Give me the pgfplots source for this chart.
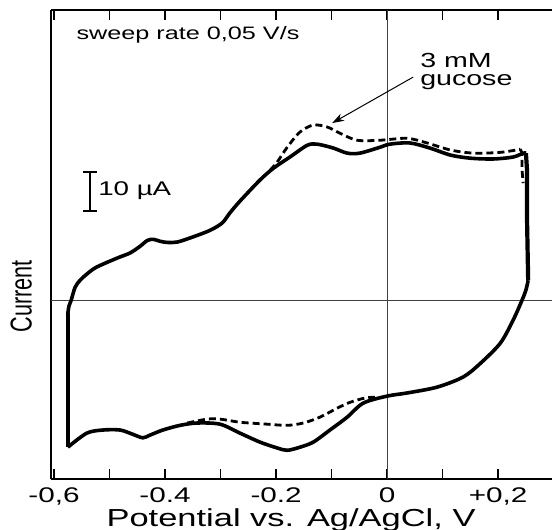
\documentclass[border=0pt]{standalone}
\usepackage{fontspec}
\setmainfont{Liberation Sans}
\usepackage{graphicx}
\usepackage{pgfplots}
\pgfplotsset{compat=1.18}
\usetikzlibrary{arrows.meta}

% the reference is stretched sideways, so text is widened by \sx
\newcommand{\sx}[1]{\scalebox{1.4}[1]{#1}}

\begin{document}
\begin{tikzpicture}
\begin{axis}[
    name=ax,
    scale only axis,
    width=256.7pt, height=234.5pt,
    xmin=-0.605, xmax=0.32,
    ymin=-45.9, ymax=74.4,
    axis x line=box, axis y line=left,
    axis line style={-, line width=0.8pt},
    xtick={-0.6,-0.5,-0.4,-0.3,-0.2,-0.1,0,0.1,0.2,0.3},
    xticklabels={{\sx{-0,6}},{},{\sx{-0.4}},{},{\sx{-0.2}},{},{\sx{0}},{},{\sx{+0,2}},{}},
    ytick=\empty,
    tick align=inside,
    major tick length=5pt,
    every tick/.style={black, line width=0.8pt},
    xticklabel style={font=\fontsize{10.6}{12}\selectfont, inner sep=1pt, yshift=-3pt},
    clip=false,
]
% zero lines
\addplot[black!75, line width=0.6pt] coordinates {(-0.605,0) (0.32,0)};
\addplot[black!75, line width=0.6pt] coordinates {(0,-45.9) (0,74.4)};

% blank CV, anodic branch
\addplot[black, line width=1.8pt, smooth, tension=0.5, line join=round] coordinates {
(-0.575,-3.3) (-0.573,-1.5) (-0.569,0) (-0.562,3.3) (-0.553,5.1)
(-0.539,6.9) (-0.523,8.5) (-0.486,10.8) (-0.463,12.1) (-0.445,13.8) (-0.432,15.3)
(-0.421,15.6) (-0.409,15.1) (-0.396,14.8) (-0.378,14.9) (-0.350,16.2) (-0.319,17.9)
(-0.297,19.8) (-0.283,22.4) (-0.265,25.4) (-0.229,30.8) (-0.205,33.8) (-0.175,36.7)
(-0.144,39.7) (-0.126,40.0) (-0.097,39.0) (-0.072,37.7) (-0.049,37.7) (-0.013,39.2)
(0.005,40.0) (0.041,40.3) (0.077,39.0) (0.114,37.2) (0.150,36.4) (0.191,36.2)
(0.227,36.7) (0.245,37.7) (0.250,37.7)
};
% blank CV, cathodic branch
\addplot[black, line width=1.8pt, smooth, tension=0.5, line join=round] coordinates {
(0.254,5.1) (0.250,2.6) (0.243,0) (0.227,-5.1) (0.204,-11.0) (0.168,-16.2) (0.137,-19.7)
(0.090,-22.3) (0.036,-23.8) (0,-24.6) (-0.043,-26.4) (-0.072,-30.0) (-0.103,-33.3)
(-0.133,-36.4) (-0.157,-37.7) (-0.180,-38.5) (-0.198,-37.9) (-0.229,-36.4) (-0.265,-34.1)
(-0.301,-31.8) (-0.342,-31.5) (-0.373,-32.1) (-0.404,-33.3) (-0.427,-34.6) (-0.440,-35.3)
(-0.458,-34.4) (-0.481,-33.3) (-0.512,-33.3) (-0.541,-34.1) (-0.575,-37.7)
};
% vertical edges at the switching potentials
\addplot[black, line width=2.3pt, line join=round] coordinates {(-0.575,-37.7) (-0.575,-3.3)};
\addplot[black, line width=2.1pt, line join=round] coordinates {(0.250,37.7) (0.252,33.3) (0.252,20.5) (0.254,5.1)};

% with 3 mM glucose
\addplot[black, line width=1.4pt, dash pattern=on 3.5pt off 2pt, smooth, tension=0.5] coordinates {
(-0.211,33.3) (-0.198,35.4) (-0.180,39.2) (-0.157,43.1) (-0.133,44.9) (-0.108,44.4)
(-0.085,42.8) (-0.054,41.0) (-0.013,41.0) (0.036,41.5) (0.072,40.3) (0.114,38.5)
(0.155,37.7) (0.204,37.9) (0.240,38.7)
};
\addplot[black, line width=1.4pt, dash pattern=on 3.5pt off 2pt] coordinates {
(0.240,38.7) (0.243,37.7) (0.243,33.3) (0.245,30.0)
};
\addplot[black, line width=1.4pt, dash pattern=on 3.5pt off 2pt, smooth, tension=0.5] coordinates {
(-0.360,-31.5) (-0.324,-30.5) (-0.301,-30.5) (-0.265,-31.3) (-0.216,-31.8) (-0.180,-32.1)
(-0.151,-31.5) (-0.121,-30.0) (-0.090,-27.7) (-0.067,-26.2) (-0.040,-25.1) (-0.022,-24.9)
};

% 10 uA scale bar
\addplot[black, line width=0.8pt] coordinates {(-0.535,22.8) (-0.535,32.8)};
\addplot[black, line width=0.8pt] coordinates {(-0.547,32.8) (-0.523,32.8)};
\addplot[black, line width=0.8pt] coordinates {(-0.547,22.8) (-0.523,22.8)};
\node[anchor=west, inner sep=0pt, font=\fontsize{9.9}{11}\selectfont] at (axis cs:-0.521,28.2) {\sx{10 µA}};

\node[anchor=west, inner sep=0pt, font=\fontsize{9}{10}\selectfont] at (axis cs:-0.560,67.9) {\sx{sweep rate 0,05 V/s}};

\node[anchor=north west, inner sep=0pt, align=left, font=\fontsize{10.2}{9}\selectfont] at (axis cs:0.059,63.5) {\sx{3 mM}\\\sx{gucose}};
\draw[black, line width=0.5pt, -{Stealth[length=6pt, width=4pt]}] (axis cs:0.047,57.2) -- (axis cs:-0.099,45.4);

\node[anchor=base, inner sep=0pt, font=\fontsize{12.3}{14}\selectfont] at ([yshift=-23.5pt]axis cs:-0.173,-45.9) {\sx{Potential vs. Ag/AgCl, V}};
\node[rotate=90, anchor=center, inner sep=0pt, font=\fontsize{10.8}{12}\selectfont] at ([xshift=-15pt]axis cs:-0.605,1) {\scalebox{1}[1.4]{Current}};
\end{axis}
\pgfresetboundingbox
\path ([xshift=-25.6pt, yshift=-25pt]ax.south west) rectangle ([xshift=-6.4pt, yshift=5pt]ax.north east);
\end{tikzpicture}
\end{document}
